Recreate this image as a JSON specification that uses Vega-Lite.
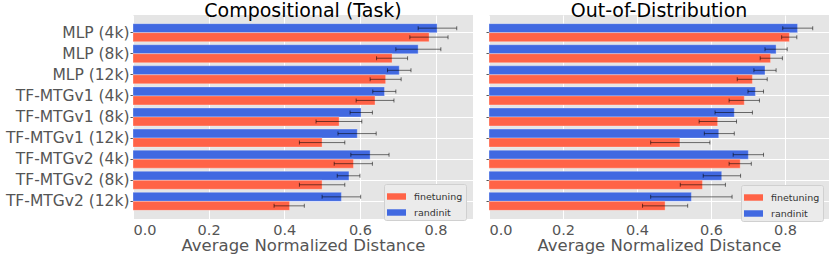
{
  "$schema": "https://vega.github.io/schema/vega-lite/v6.json",
  "padding": {"left": 5, "top": 2, "right": 2, "bottom": 0},
  "config": {
    "font": "DejaVu Sans",
    "view": {"fill": "#E5E5E5", "stroke": null},
    "axis": {"domain": false, "gridColor": "#ffffff", "gridWidth": 1, "gridOpacity": 1, "labelColor": "#555555", "titleColor": "#555555", "tickColor": "#555555", "labelFontSize": 14.5, "titleFontSize": 16.5, "titleFontWeight": "normal"},
    "title": {"fontSize": 19, "fontWeight": "normal", "color": "#000000", "frame": "group", "anchor": "middle", "offset": -6},
    "concat": {"spacing": 12},
    "legend": {"orient": "none", "title": null, "fillColor": "#EBEBEB", "strokeColor": "#D0D0D0", "cornerRadius": 2, "padding": 3, "labelFontSize": 9.5, "labelColor": "#333333", "labelOffset": 8, "rowPadding": 2, "symbolType": "M-1,-0.34H1V0.34H-1Z", "symbolSize": 361, "symbolStrokeWidth": 0, "symbolOpacity": 1}
  },
  "datasets": {
    "comp": [
      {"model": "MLP (4k)", "init": "randinit", "v": 0.804, "lo": 0.754, "hi": 0.856},
      {"model": "MLP (4k)", "init": "finetuning", "v": 0.783, "lo": 0.732, "hi": 0.833},
      {"model": "MLP (8k)", "init": "randinit", "v": 0.754, "lo": 0.695, "hi": 0.814},
      {"model": "MLP (8k)", "init": "finetuning", "v": 0.685, "lo": 0.644, "hi": 0.726},
      {"model": "MLP (12k)", "init": "randinit", "v": 0.704, "lo": 0.673, "hi": 0.735},
      {"model": "MLP (12k)", "init": "finetuning", "v": 0.668, "lo": 0.627, "hi": 0.709},
      {"model": "TF-MTGv1 (4k)", "init": "randinit", "v": 0.665, "lo": 0.634, "hi": 0.695},
      {"model": "TF-MTGv1 (4k)", "init": "finetuning", "v": 0.640, "lo": 0.590, "hi": 0.690},
      {"model": "TF-MTGv1 (8k)", "init": "randinit", "v": 0.603, "lo": 0.574, "hi": 0.633},
      {"model": "TF-MTGv1 (8k)", "init": "finetuning", "v": 0.545, "lo": 0.484, "hi": 0.605},
      {"model": "TF-MTGv1 (12k)", "init": "randinit", "v": 0.593, "lo": 0.542, "hi": 0.643},
      {"model": "TF-MTGv1 (12k)", "init": "finetuning", "v": 0.500, "lo": 0.440, "hi": 0.560},
      {"model": "TF-MTGv2 (4k)", "init": "randinit", "v": 0.627, "lo": 0.576, "hi": 0.677},
      {"model": "TF-MTGv2 (4k)", "init": "finetuning", "v": 0.583, "lo": 0.532, "hi": 0.633},
      {"model": "TF-MTGv2 (8k)", "init": "randinit", "v": 0.571, "lo": 0.540, "hi": 0.600},
      {"model": "TF-MTGv2 (8k)", "init": "finetuning", "v": 0.500, "lo": 0.440, "hi": 0.560},
      {"model": "TF-MTGv2 (12k)", "init": "randinit", "v": 0.551, "lo": 0.500, "hi": 0.602},
      {"model": "TF-MTGv2 (12k)", "init": "finetuning", "v": 0.414, "lo": 0.373, "hi": 0.453}
    ],
    "ood": [
      {"model": "MLP (4k)", "init": "randinit", "v": 0.834, "lo": 0.794, "hi": 0.875},
      {"model": "MLP (4k)", "init": "finetuning", "v": 0.812, "lo": 0.791, "hi": 0.832},
      {"model": "MLP (8k)", "init": "randinit", "v": 0.776, "lo": 0.746, "hi": 0.806},
      {"model": "MLP (8k)", "init": "finetuning", "v": 0.761, "lo": 0.733, "hi": 0.793},
      {"model": "MLP (12k)", "init": "randinit", "v": 0.746, "lo": 0.716, "hi": 0.776},
      {"model": "MLP (12k)", "init": "finetuning", "v": 0.712, "lo": 0.671, "hi": 0.752},
      {"model": "TF-MTGv1 (4k)", "init": "randinit", "v": 0.720, "lo": 0.700, "hi": 0.742},
      {"model": "TF-MTGv1 (4k)", "init": "finetuning", "v": 0.690, "lo": 0.649, "hi": 0.731},
      {"model": "TF-MTGv1 (8k)", "init": "randinit", "v": 0.663, "lo": 0.611, "hi": 0.712},
      {"model": "TF-MTGv1 (8k)", "init": "finetuning", "v": 0.618, "lo": 0.568, "hi": 0.669},
      {"model": "TF-MTGv1 (12k)", "init": "randinit", "v": 0.621, "lo": 0.582, "hi": 0.663},
      {"model": "TF-MTGv1 (12k)", "init": "finetuning", "v": 0.516, "lo": 0.437, "hi": 0.597},
      {"model": "TF-MTGv2 (4k)", "init": "randinit", "v": 0.701, "lo": 0.660, "hi": 0.742},
      {"model": "TF-MTGv2 (4k)", "init": "finetuning", "v": 0.679, "lo": 0.649, "hi": 0.709},
      {"model": "TF-MTGv2 (8k)", "init": "randinit", "v": 0.629, "lo": 0.579, "hi": 0.680},
      {"model": "TF-MTGv2 (8k)", "init": "finetuning", "v": 0.577, "lo": 0.517, "hi": 0.639},
      {"model": "TF-MTGv2 (12k)", "init": "randinit", "v": 0.547, "lo": 0.437, "hi": 0.657},
      {"model": "TF-MTGv2 (12k)", "init": "finetuning", "v": 0.476, "lo": 0.415, "hi": 0.537}
    ]
  },
  "resolve": {"scale": {"x": "independent"}, "legend": {"color": "independent"}},
  "hconcat": [
    {
      "title": "Compositional (Task)",
      "width": 340,
      "height": 204,
      "data": {"name": "comp"},
      "encoding": {
        "y": {"field": "model", "type": "nominal", "sort": ["MLP (4k)", "MLP (8k)", "MLP (12k)", "TF-MTGv1 (4k)", "TF-MTGv1 (8k)", "TF-MTGv1 (12k)", "TF-MTGv2 (4k)", "TF-MTGv2 (8k)", "TF-MTGv2 (12k)"], "scale": {"paddingInner": 0.147, "paddingOuter": 0.41}, "axis": {"title": null, "grid": true, "bandPosition": 0.5, "ticks": true, "tickSize": 3, "labelPadding": 1, "labelFontSize": 15.5}},
        "yOffset": {"field": "init", "type": "nominal", "sort": ["randinit", "finetuning"], "scale": {"paddingInner": 0, "paddingOuter": 0}}
      },
      "layer": [
        {
          "mark": {"type": "bar", "stroke": "#ffffff", "strokeOpacity": 0.3, "strokeWidth": 1},
          "encoding": {
            "x": {"field": "v", "type": "quantitative", "stack": null, "scale": {"domain": [0, 0.899], "nice": false}, "axis": {"title": "Average Normalized Distance", "values": [0, 0.2, 0.4, 0.6, 0.8], "format": ".1f", "ticks": false, "labelPadding": 4, "grid": true, "titlePadding": 1}},
            "color": {"field": "init", "type": "nominal", "scale": {"domain": ["finetuning", "randinit"], "range": ["#FF6347", "#4169E1"]}, "legend": {"legendX": 251, "legendY": 169}}
          }
        },
        {
          "mark": {"type": "rule", "color": "#000000", "opacity": 0.55, "strokeWidth": 1},
          "encoding": {"x": {"field": "lo", "type": "quantitative"}, "x2": {"field": "hi"}}
        },
        {
          "mark": {"type": "tick", "color": "#000000", "opacity": 0.55, "thickness": 1, "size": 4},
          "encoding": {"x": {"field": "lo", "type": "quantitative"}}
        },
        {
          "mark": {"type": "tick", "color": "#000000", "opacity": 0.55, "thickness": 1, "size": 4},
          "encoding": {"x": {"field": "hi", "type": "quantitative"}}
        }
      ]
    },
    {
      "title": "Out-of-Distribution",
      "width": 340,
      "height": 204,
      "data": {"name": "ood"},
      "encoding": {
        "y": {"field": "model", "type": "nominal", "sort": ["MLP (4k)", "MLP (8k)", "MLP (12k)", "TF-MTGv1 (4k)", "TF-MTGv1 (8k)", "TF-MTGv1 (12k)", "TF-MTGv2 (4k)", "TF-MTGv2 (8k)", "TF-MTGv2 (12k)"], "scale": {"paddingInner": 0.147, "paddingOuter": 0.41}, "axis": {"title": null, "grid": true, "bandPosition": 0.5, "labels": false, "ticks": true, "tickSize": 3, "minExtent": 0}},
        "yOffset": {"field": "init", "type": "nominal", "sort": ["randinit", "finetuning"], "scale": {"paddingInner": 0, "paddingOuter": 0}}
      },
      "layer": [
        {
          "mark": {"type": "bar", "stroke": "#ffffff", "strokeOpacity": 0.3, "strokeWidth": 1},
          "encoding": {
            "x": {"field": "v", "type": "quantitative", "stack": null, "scale": {"domain": [0, 0.919], "nice": false}, "axis": {"title": "Average Normalized Distance", "values": [0, 0.2, 0.4, 0.6, 0.8], "format": ".1f", "ticks": false, "labelPadding": 4, "grid": true, "titlePadding": 1}},
            "color": {"field": "init", "type": "nominal", "scale": {"domain": ["finetuning", "randinit"], "range": ["#FF6347", "#4169E1"]}, "legend": {"legendX": 252, "legendY": 170}}
          }
        },
        {
          "mark": {"type": "rule", "color": "#000000", "opacity": 0.55, "strokeWidth": 1},
          "encoding": {"x": {"field": "lo", "type": "quantitative"}, "x2": {"field": "hi"}}
        },
        {
          "mark": {"type": "tick", "color": "#000000", "opacity": 0.55, "thickness": 1, "size": 4},
          "encoding": {"x": {"field": "lo", "type": "quantitative"}}
        },
        {
          "mark": {"type": "tick", "color": "#000000", "opacity": 0.55, "thickness": 1, "size": 4},
          "encoding": {"x": {"field": "hi", "type": "quantitative"}}
        }
      ]
    }
  ]
}
